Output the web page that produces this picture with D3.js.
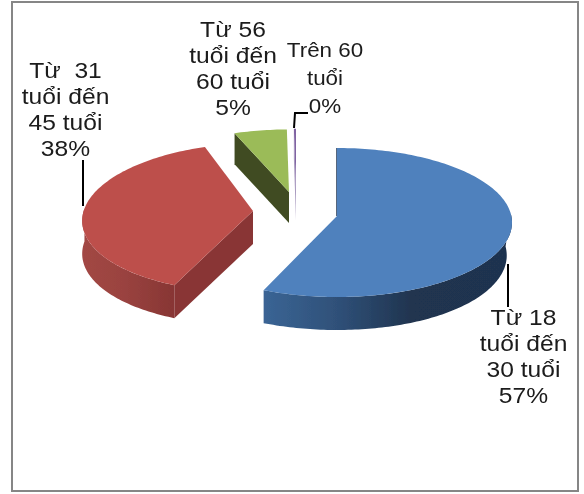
<!DOCTYPE html>
<html>
<head>
<meta charset="utf-8">
<script src="https://cdn.jsdelivr.net/npm/d3@7"></script>
<style>
html,body{margin:0;padding:0;background:#fff}
svg{display:block}
text{font-family:"Liberation Sans",Arial,sans-serif;fill:#1a1a1a;white-space:pre}
</style>
</head>
<body>
<svg id="chart" width="584" height="494"></svg>
<script>
// Data
const categories = ["Từ 18 tuổi đến 30 tuổi", "Từ  31 tuổi đến 45 tuổi", "Từ 56 tuổi đến 60 tuổi", "Trên 60 tuổi"];
const values = [57, 38, 5, 0.2];
const percentLabels = ["57%", "38%", "5%", "0%"];
const labelLines = [
  ["Từ 18", "tuổi đến", "30 tuổi", "57%"],
  ["Từ  31", "tuổi đến", "45 tuổi", "38%"],
  ["Từ 56", "tuổi đến", "60 tuổi", "5%"],
  ["Trên 60", "tuổi", "0%"]
];
const topColors = ["#4f81bd", "#bd4f4c", "#9bbb59", "#8064a2"];
const faceColors = ["#1f3350", "#893635", "#3f4c21", "#a99bc0"];

// Layout
const svg = d3.select("#chart");
const depths = [33, 33, 31, 30];
const ryTop = 68, ryBottom = 81, rimShrink = 0.03, textStretch = 1.12;
const pivots = [[337, 216], [253, 211], [289, 192], [296, 190]];
const radiiX = [175, 170, 170, 170];
const backScale = [1, 1, 0.92, 0.9];
const skews = [0, -0.1, 0, 0];
const labelPos = [[523.5, 325, 26, 22], [65.5, 78, 26, 22], [233, 37, 26, 22], [325, 57, 28, 20]];
const leaders = [
  [[508, 264], [508, 307]],
  [[83, 160], [83, 206]],
  [],
  [[294, 128], [295, 113], [308, 113]]
];

const defs = svg.append("defs");
const blur = defs.append("filter").attr("id", "soft");
blur.append("feGaussianBlur").attr("stdDeviation", 0.45);

function grad(id, stops, x1, x2) {
  const g = defs.append("linearGradient").attr("id", id)
    .attr("gradientUnits", "userSpaceOnUse")
    .attr("x1", x1).attr("x2", x2).attr("y1", 0).attr("y2", 0);
  stops.forEach(s => g.append("stop").attr("offset", s[0]).attr("stop-color", s[1]));
}
grad("wallBlue", [[0, "#3a6494"], [0.3, "#2f5078"], [0.6, "#20344f"], [1, "#1f3350"]], 265, 510);
grad("wallRed", [[0, "#a24744"], [0.45, "#9a4340"], [1, "#883634"]], 83, 172);
const wallFills = ["url(#wallBlue)", "url(#wallRed)", faceColors[2], faceColors[3]];

const root = svg.append("g").attr("filter", "url(#soft)");

root.append("rect").attr("x", 12).attr("y", 2).attr("width", 566).attr("height", 489)
  .attr("fill", "#fff").attr("stroke", "#868686").attr("stroke-width", 2);

const pie = d3.pie().sort(null).value(d => d);
const arcs = pie(values);
const line = d3.line();

function project(i, a, dz) {
  const sin = Math.sin(a);
  const r = radiiX[i] * (1 - rimShrink * (dz / depths[i]) * Math.max(0, sin)), c = pivots[i];
  const dx = r * sin;
  const ryC = (ryTop * backScale[i] + ryBottom) / 2, shift = (ryBottom - ryTop * backScale[i]) / 2;
  const dy = shift - ryC * Math.cos(a);
  return [c[0] + dx + skews[i] * dy, c[1] + dy + dz];
}
function samples(a0, a1) {
  const n = Math.max(2, Math.ceil((a1 - a0) / 0.02));
  return d3.range(n + 1).map(k => a0 + (a1 - a0) * k / n);
}
function pivot(i, dz) { return [pivots[i][0], pivots[i][1] + dz]; }

arcs.forEach((d, i) => {
  const g = root.append("g");
  const a0 = d.startAngle, a1 = d.endAngle, depth = depths[i];
  // outer wall: the part of the rim that faces the viewer
  const w0 = Math.max(a0, Math.PI / 2 - 0.12), w1 = Math.min(a1, 3 * Math.PI / 2 + 0.12);
  if (w1 > w0) {
    const s = samples(w0, w1);
    const pts = s.map(a => project(i, a, 0)).concat(s.slice().reverse().map(a => project(i, a, depth)));
    g.append("path").attr("d", line(pts) + "Z").attr("fill", wallFills[i]);
  }
  // cut face at the start edge of the slice
  g.append("path")
    .attr("d", line([pivot(i, 0), project(i, a0, 0), project(i, a0, depth), pivot(i, depth)]) + "Z")
    .attr("fill", faceColors[i]);
  if (i === 0) {
    g.append("path").attr("d", line([project(i, a0, 0), pivot(i, 0)]))
      .attr("stroke", faceColors[0]).attr("stroke-width", 1.5).attr("fill", "none");
  }
  // top surface
  const top = [pivot(i, 0)].concat(samples(a0, a1).map(a => project(i, a, 0)));
  g.append("path").attr("d", line(top) + "Z").attr("fill", topColors[i]);
});

leaders.forEach(pts => {
  if (pts.length) root.append("path").attr("d", line(pts))
    .attr("fill", "none").attr("stroke", "#000").attr("stroke-width", 2);
});

labelLines.forEach((lines, i) => {
  const [x, y, lh, fs] = labelPos[i];
  lines.forEach((t, k) => {
    root.append("text")
      .attr("transform", `translate(${x},${y + k * lh}) scale(${textStretch},1)`)
      .attr("text-anchor", "middle").attr("font-size", fs)
      .attr("xml:space", "preserve").text(t);
  });
});
</script>
</body>
</html>
